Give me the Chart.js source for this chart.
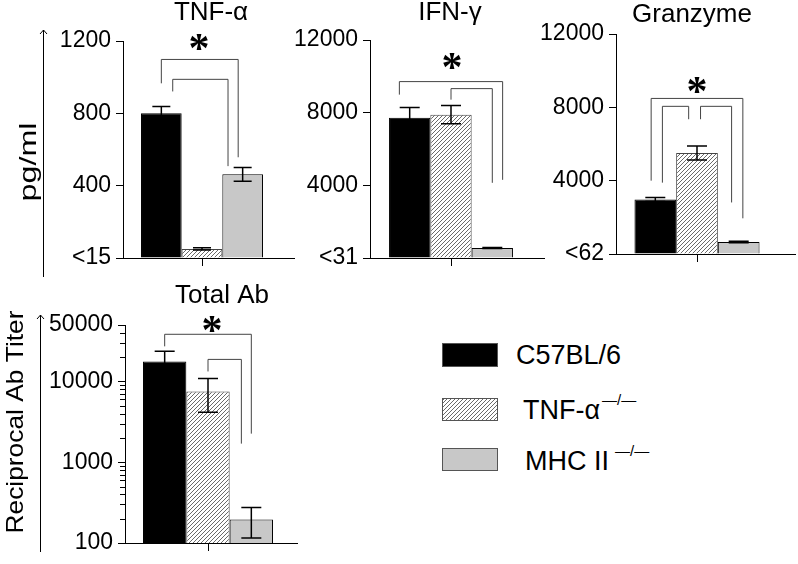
<!DOCTYPE html>
<html>
<head>
<meta charset="utf-8">
<script src="https://cdn.jsdelivr.net/npm/chart.js@4.4.1/dist/chart.umd.min.js"></script>
<style>
body { margin: 0; background: #fff; width: 798px; height: 564px; position: relative; overflow: hidden;
       font-family: "Liberation Sans", Arial, sans-serif; }
canvas { position: absolute; }
.sw { position: absolute; left: 442px; width: 56px; box-sizing: border-box; border: 1px solid #555; }
.lt { position: absolute; font-size: 27px; line-height: 30px; color: #000; white-space: nowrap; }
.lt sup { font-size: 15px; position: relative; top: -10px; margin-left: 2px; vertical-align: top; }
</style>
</head>
<body>
<canvas id="tnf" width="300" height="280" style="left:0;top:0"></canvas>
<canvas id="ifn" width="260" height="280" style="left:290px;top:0"></canvas>
<canvas id="grz" width="268" height="280" style="left:530px;top:0"></canvas>
<canvas id="ab" width="310" height="284" style="left:0;top:280px"></canvas>

<div class="sw" style="top:343px;height:24px;background:#000"></div>
<div class="sw" id="hatchBox" style="top:398px;height:23px"></div>
<div class="sw" style="top:448px;height:23px;background:#c8c8c8"></div>
<div class="lt" style="left:516px;top:340px">C57BL/6</div>
<div class="lt" style="left:523px;top:395px">TNF-α<sup>—/—</sup></div>
<div class="lt" style="left:525px;top:446px">MHC II<sup style="margin-left:6px">—/—</sup></div>

<script>
Chart.defaults.font.family = '"Liberation Sans", Arial, sans-serif';
Chart.defaults.font.size = 23;
Chart.defaults.color = '#000';

// groups
const groups = ['C57BL/6', 'TNF-α−/−', 'MHC II−/−'];

// TNF-a (pg/ml)
const tnfMean = [800, 50, 463];
const tnfSem = [38, 6, 38];
const tnfTickValues = [0, 400, 800, 1200];
const tnfTickLabels = ['<15', '400', '800', '1200'];

// IFN-g (pg/ml)
const ifnMean = [7720, 7890, 550];
const ifnSem = [560, 500, 25];
const ifnTickValues = [0, 4000, 8000, 12000];
const ifnTickLabels = ['<31', '4000', '8000', '12000'];

// Granzyme (pg/ml)
const grzMean = [2970, 5510, 650];
const grzSem = [110, 380, 40];
const grzTickValues = [0, 4000, 8000, 12000];
const grzTickLabels = ['<62', '4000', '8000', '12000'];

// Total Ab (reciprocal titer, log)
const abMean = [17700, 7500, 195];
const abSem = [5900, 3350, 80];
const abTickValues = [100, 1000, 10000, 50000];
const abTickLabels = ['100', '1000', '10000', '50000'];

function hatchPattern() {
    const c = document.createElement('canvas');
    c.width = c.height = 4;
    const g = c.getContext('2d');
    g.fillStyle = '#fff';
    g.fillRect(0, 0, 4, 4);
    g.strokeStyle = '#6a6a6a';
    g.lineWidth = 1;
    g.beginPath();
    g.moveTo(0, 4); g.lineTo(4, 0);
    g.moveTo(-1, 1); g.lineTo(1, -1);
    g.moveTo(3, 5); g.lineTo(5, 3);
    g.stroke();
    return g.createPattern(c, 'repeat');
}
const fills = ['#000', hatchPattern(), '#c8c8c8'];
document.getElementById('hatchBox').style.background =
    'repeating-linear-gradient(-45deg, #fff 0 1.9px, #6a6a6a 1.9px 2.8px)';

// draws x axis line, error bars, brackets, star, title, side label
const decor = {
    id: 'decor',
    afterDatasetsDraw(chart, args, o) {
        const ctx = chart.ctx, a = chart.chartArea, ys = chart.scales.y;
        const bars = [0, 1, 2].map(i => chart.getDatasetMeta(i).data[0]);
        ctx.save();
        ctx.strokeStyle = '#000';
        ctx.lineWidth = 1;
        ctx.beginPath();
        ctx.moveTo(a.left - 7, Math.round(a.bottom) + 0.5);
        ctx.lineTo(a.left + o.axisEnd, Math.round(a.bottom) + 0.5);
        ctx.stroke();

        if (o.log) {
            ctx.beginPath();
            [100, 1000, 10000].forEach(d => {
                for (let k = 2; k <= 9; k++) {
                    const v = k * d;
                    if (v >= 50000) continue;
                    const py = Math.round(ys.getPixelForValue(v)) + 0.5;
                    ctx.moveTo(a.left - 5, py);
                    ctx.lineTo(a.left, py);
                }
            });
            ctx.stroke();
        }

        // error bars
        ctx.lineWidth = 1.5;
        o.sem.forEach((s, i) => {
            const m = chart.data.datasets[i].data[0], x = bars[i].x;
            const t = ys.getPixelForValue(m + s), b = ys.getPixelForValue(m - s);
            const w = o.cap / 2;
            ctx.beginPath();
            ctx.moveTo(x, t); ctx.lineTo(x, b);
            ctx.moveTo(x - w, t); ctx.lineTo(x + w, t);
            ctx.moveTo(x - w, b); ctx.lineTo(x + w, b);
            ctx.stroke();
        });

        // significance brackets
        ctx.strokeStyle = '#444';
        ctx.lineWidth = 1;
        o.brackets.forEach(k => {
            const xa = bars[k.a].x + k.fa * bars[k.a].width;
            const xb = bars[k.b].x + k.fb * bars[k.b].width;
            const yt = ys.getPixelForValue(k.top);
            ctx.beginPath();
            ctx.moveTo(xa, ys.getPixelForValue(k.ea));
            ctx.lineTo(xa, yt);
            ctx.lineTo(xb, yt);
            ctx.lineTo(xb, ys.getPixelForValue(k.eb));
            ctx.stroke();
        });

        // star
        ctx.fillStyle = '#000';
        ctx.font = 'bold 42px "Liberation Serif", serif';
        ctx.textAlign = 'center';
        ctx.textBaseline = 'alphabetic';
        const mt = ctx.measureText('*');
        ctx.fillText('*', o.star[0], o.star[1] + (mt.actualBoundingBoxAscent - mt.actualBoundingBoxDescent) / 2);

        // title
        ctx.font = '26px "Liberation Sans", Arial, sans-serif';
        ctx.textBaseline = 'middle';
        ctx.fillText(o.title[0], o.title[1], o.title[2]);

        // outer axis with arrow + label
        if (o.side) {
            const s = o.side;
            ctx.strokeStyle = '#000';
            ctx.lineWidth = 1;
            ctx.beginPath();
            ctx.moveTo(s.ax + 0.5, s.top); ctx.lineTo(s.ax + 0.5, s.bottom);
            ctx.moveTo(s.ax - 3, s.top + 4); ctx.lineTo(s.ax + 0.5, s.top); ctx.lineTo(s.ax + 4, s.top + 4);
            ctx.stroke();
            ctx.translate(s.x, s.y);
            ctx.rotate(-Math.PI / 2);
            ctx.font = '24px "Liberation Sans", Arial, sans-serif';
            const tw = ctx.measureText(s.text).width;
            ctx.scale(s.len / tw, 1);
            ctx.fillText(s.text, 0, 0);
        }
        ctx.restore();
    }
};

function makePanel(id, p) {
    return new Chart(document.getElementById(id), {
        type: 'bar',
        data: {
            labels: [''],
            datasets: p.mean.map((m, i) => ({
                label: groups[i],
                data: [m],
                backgroundColor: fills[i],
                borderColor: i === 1 ? '#444' : '#000',
                borderWidth: 1,
                barPercentage: 1,
                categoryPercentage: p.cat
            }))
        },
        options: {
            responsive: false,
            animation: false,
            layout: { padding: { left: 0, right: p.padRight, top: p.padTop, bottom: 0 } },
            plugins: {
                legend: { display: false },
                tooltip: { enabled: false },
                decor: p.decor
            },
            scales: {
                x: {
                    grid: { drawOnChartArea: false, offset: false, tickLength: 8, color: '#000' },
                    border: { display: false },
                    ticks: { display: false },
                    afterFit: s => { s.height = p.xHeight; }
                },
                y: {
                    type: p.log ? 'logarithmic' : 'linear',
                    min: p.tickValues[0],
                    max: p.tickValues[p.tickValues.length - 1],
                    grid: { drawOnChartArea: false, tickLength: 7, color: '#000' },
                    border: { display: true, color: '#000', width: 1 },
                    ticks: { padding: 5, callback: (v, i) => p.tickLabels[i] },
                    afterBuildTicks: s => { s.ticks = p.tickValues.map(v => ({ value: v })); },
                    afterFit: s => { s.width = p.yWidth; }
                }
            }
        },
        plugins: [decor]
    });
}

makePanel('tnf', {
    mean: tnfMean, tickValues: tnfTickValues, tickLabels: tnfTickLabels,
    cat: 0.772, yWidth: 123, padRight: 19, padTop: 41, xHeight: 22,
    decor: {
        sem: tnfSem, cap: 18, axisEnd: 172,
        star: [199, 42], title: ['TNF-α', 211, 13],
        brackets: [
            { a: 0, fa: 0, b: 2, fb: -0.11, top: 1098, ea: 966, eb: 557 },
            { a: 0, fa: 0.28, b: 2, fb: -0.36, top: 988, ea: 921, eb: 508 }
        ],
        side: { text: 'pg/ml', x: 29, y: 162, len: 79, ax: 43, top: 30, bottom: 277 }
    }
});

makePanel('ifn', {
    mean: ifnMean, tickValues: ifnTickValues, tickLabels: ifnTickLabels,
    cat: 0.765, yWidth: 80, padRight: 18, padTop: 40, xHeight: 22,
    decor: {
        sem: ifnSem, cap: 20, axisEnd: 175,
        star: [162, 61], title: ['IFN-γ', 160, 13],
        brackets: [
            { a: 0, fa: -0.25, b: 2, fb: 0.25, top: 9710, ea: 8993, eb: 4303 },
            { a: 1, fa: 0, b: 2, fb: 0, top: 9324, ea: 8717, eb: 4138 }
        ]
    }
});

makePanel('grz', {
    mean: grzMean, tickValues: grzTickValues, tickLabels: grzTickLabels,
    cat: 0.772, yWidth: 86, padRight: 20, padTop: 34, xHeight: 26,
    decor: {
        sem: grzSem, cap: 20, axisEnd: 180,
        star: [167, 85], title: ['Granzyme', 162, 15],
        brackets: [
            { a: 0, fa: -0.1, b: 2, fb: 0.1, top: 8486, ea: 4000, eb: 1946 },
            { a: 0, fa: 0.17, b: 1, fb: -0.2, top: 8054, ea: 3892, eb: 7351 },
            { a: 1, fa: 0.085, b: 2, fb: -0.17, top: 8054, ea: 7351, eb: 2811 }
        ]
    }
});

makePanel('ab', {
    mean: abMean, tickValues: abTickValues, tickLabels: abTickLabels, log: true,
    cat: 0.783, yWidth: 125, padRight: 19, padTop: 45, xHeight: 21,
    decor: {
        sem: abSem, cap: 20, axisEnd: 173, log: true,
        star: [212, 44], title: ['Total Ab', 222, 16],
        brackets: [
            { a: 0, fa: 0, b: 2, fb: 0, top: 38370, ea: 27200, eb: 2260 },
            { a: 1, fa: 0, b: 2, fb: -0.23, top: 18750, ea: 13300, eb: 1700 }
        ],
        side: { text: 'Reciprocal Ab Titer', x: 16, y: 142, len: 223, ax: 40, top: 35, bottom: 272 }
    }
});
</script>
</body>
</html>
